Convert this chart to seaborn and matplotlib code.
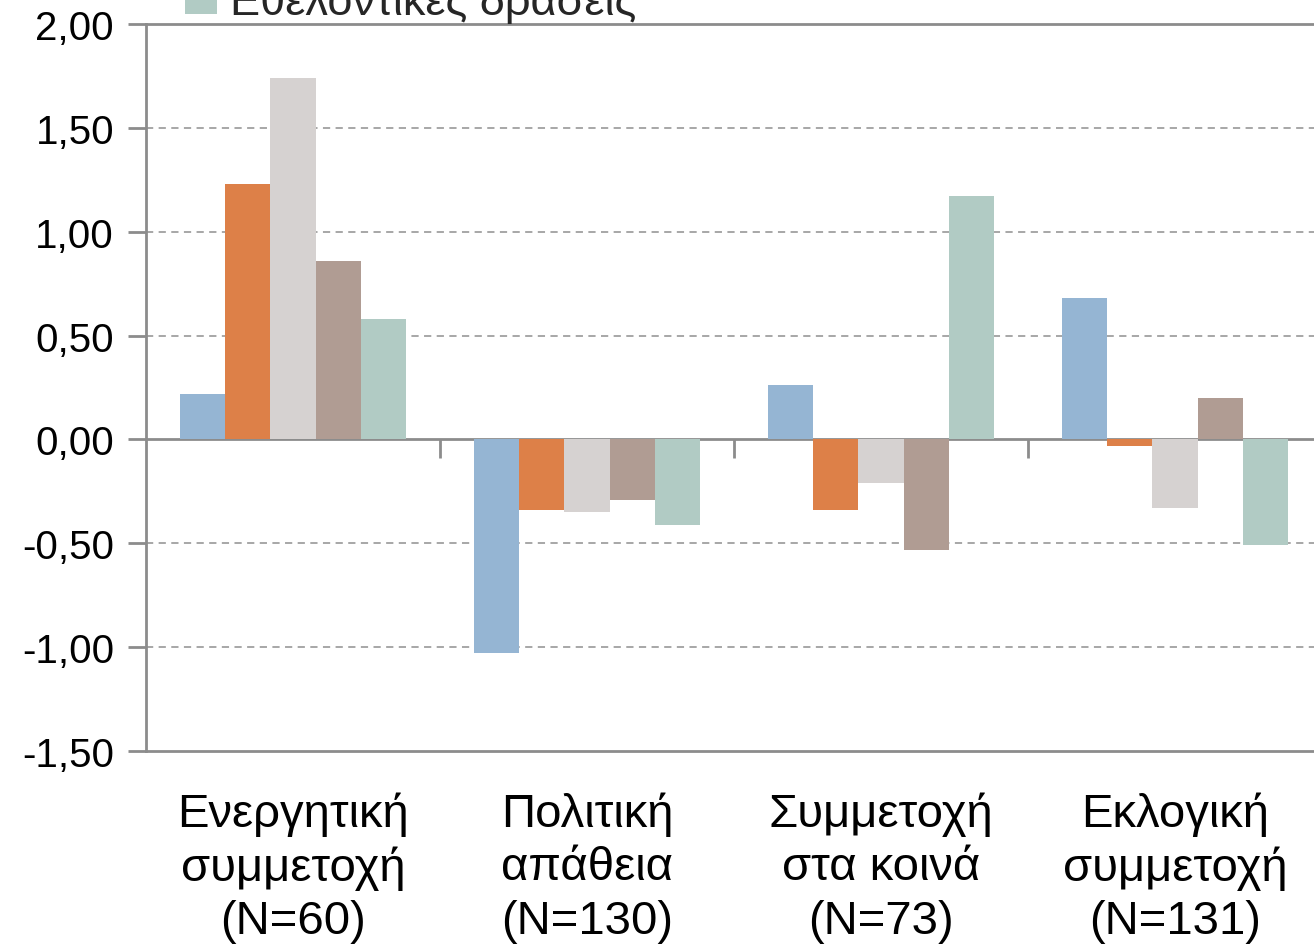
import numpy as np
import pandas as pd
import matplotlib
matplotlib.use('Agg')
import matplotlib.pyplot as plt
import seaborn as sns
from matplotlib.ticker import FuncFormatter

# Données
groupes = ['Ενεργητική\nσυμμετοχή\n(N=60)', 'Πολιτική\nαπάθεια\n(N=130)',
           'Συμμετοχή\nστα κοινά\n(N=73)', 'Εκλογική\nσυμμετοχή\n(N=131)']
series = ['Πολιτική δράση', 'Διαμαρτυρία', 'Συμμετοχή σε κόμματα',
          'Ψήφος', 'Εθελοντικές δράσεις']
valeurs = [
    [0.22, 1.23, 1.74, 0.86, 0.58],
    [-1.03, -0.34, -0.35, -0.29, -0.41],
    [0.26, -0.34, -0.21, -0.53, 1.17],
    [0.68, -0.03, -0.33, 0.20, -0.51],
]
couleurs = ['#95B5D3', '#DD8048', '#D6D2D1', '#B09C93', '#B1CBC4']
yticks = [-1.5, -1.0, -0.5, 0.0, 0.5, 1.0, 1.5, 2.0]

rows = []
for g, vals in zip(groupes, valeurs):
    for s, v in zip(series, vals):
        rows.append({'groupe': g, 'serie': s, 'valeur': v})
df = pd.DataFrame(rows)

sns.set_style('white')
plt.rcParams['font.family'] = ['Liberation Sans', 'DejaVu Sans']

fig = plt.figure(figsize=(13.14, 9.45), dpi=100)
ax = fig.add_axes([0.1111, 0.2042, 0.895, 0.7693])

sns.barplot(data=df, x='groupe', y='valeur', hue='serie', palette=couleurs,
            width=0.77, gap=0, saturation=1, linewidth=0, ax=ax)

ax.set_xlim(-0.5, 3.5)
ax.set_ylim(-1.5, 2.0)
ax.set_yticks(yticks)
ax.yaxis.set_major_formatter(FuncFormatter(lambda v, p: f"{v:.2f}".replace('.', ',')))
ax.set_xlabel('')
ax.set_ylabel('')

gris = '#8C8C8C'
for y in yticks[1:-1]:
    if y != 0:
        ax.axhline(y, color='#A0A0A0', lw=1.3, ls=(0, (4, 3)), zorder=0)
ax.set_axisbelow(True)

for side in ['left', 'top', 'bottom', 'right']:
    ax.spines[side].set_color(gris)
    ax.spines[side].set_linewidth(2)
    ax.spines[side].set_visible(True)

ax.tick_params(axis='y', labelsize=29, length=13, width=2, color=gris,
               labelcolor='black', direction='out', pad=10, left=True)
ax.tick_params(axis='x', labelsize=34, length=0, pad=29, labelcolor='black')
for lab in ax.get_xticklabels():
    lab.set_linespacing(1.28)

# Axe horizontal à zéro avec graduations entre les catégories
sec = ax.secondary_xaxis((0 - (-1.5)) / 3.5)
sec.set_xticks([0.5, 1.5, 2.5])
sec.set_xticklabels([])
sec.tick_params(length=14, width=2, color=gris, direction='out')
sec.spines['bottom'].set_color(gris)
sec.spines['bottom'].set_linewidth(2)

# Légende en haut, coupée par le bord comme dans l'original
handles, labels = ax.get_legend_handles_labels()
ax.get_legend().remove()
fig.legend(handles, labels, loc='lower left', bbox_to_anchor=(0.11, 0.932),
           frameon=False, fontsize=32.5, handlelength=0.7, handleheight=0.7,
           handletextpad=0.3, labelspacing=0.2)

plt.savefig('out.png', dpi=100)
